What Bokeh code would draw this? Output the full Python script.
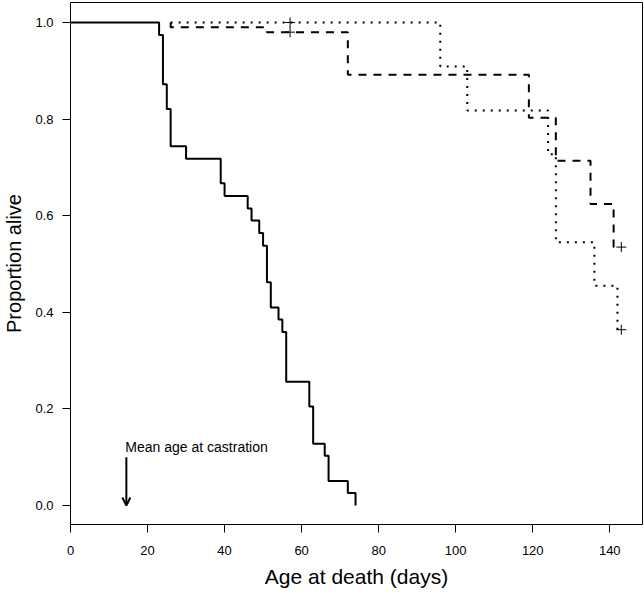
from bokeh.plotting import figure
from bokeh.models import Range1d, FixedTicker, Label, Arrow, OpenHead, PrintfTickFormatter
from bokeh.embed import file_html
from bokeh.resources import INLINE

# ---- data (Kaplan-Meier steps) ----
# solid curve
solid_days = [0, 23, 24, 25, 26, 30, 39, 40, 46, 47, 49, 50, 51, 52, 54, 55, 56, 62, 63, 66, 67, 72, 74]
solid_surv = [1.0, 0.974, 0.872, 0.821, 0.744, 0.718, 0.667, 0.641, 0.615, 0.590, 0.564, 0.538,
              0.462, 0.410, 0.385, 0.359, 0.256, 0.205, 0.128, 0.103, 0.051, 0.026, 0.0]
# dashed curve
dashed_days = [26, 26, 51, 72, 119, 126, 135, 141, 143]
dashed_surv = [1.0, 0.99, 0.98, 0.892, 0.803, 0.714, 0.624, 0.535, 0.535]
dashed_cens_days = [57, 143]
dashed_cens_surv = [0.98, 0.535]
# dotted curve
dotted_days = [26, 96, 103, 124, 126, 136, 142, 143]
dotted_surv = [1.0, 0.909, 0.818, 0.727, 0.545, 0.455, 0.364, 0.364]
dotted_cens_days = [57, 143]
dotted_cens_surv = [1.0, 0.364]

castration_age = 14.5
castration_note = "Mean age at castration"

x_ticks = [0, 20, 40, 60, 80, 100, 120, 140]
y_ticks = [0.0, 0.2, 0.4, 0.6, 0.8, 1.0]
x_title = "Age at death (days)"
y_title = "Proportion alive"

FONT = "Liberation Sans"

p = figure(width=644, height=594,
           x_range=Range1d(0, 148.5), y_range=Range1d(-0.0393, 1.0414),
           output_backend="svg", toolbar_location=None,
           min_border_left=70, min_border_right=2, min_border_top=2, min_border_bottom=70)
p.background_fill_color = "white"
p.border_fill_color = "white"
p.outline_line_color = "black"
p.outline_line_width = 1
p.xgrid.visible = False
p.ygrid.visible = False

for ax in (p.xaxis[0], p.yaxis[0]):
    ax.axis_line_color = None
    ax.major_tick_in = 0
    ax.major_tick_out = 8
    ax.minor_tick_in = 0
    ax.minor_tick_out = 0
    ax.major_tick_line_color = "black"
    ax.major_label_text_font = FONT
    ax.major_label_text_font_size = "13px"
    ax.major_label_text_color = "black"
    ax.axis_label_text_font = FONT
    ax.axis_label_text_font_style = "normal"
    ax.axis_label_text_color = "black"

p.xaxis.ticker = FixedTicker(ticks=x_ticks)
p.xaxis.major_label_standoff = 13
p.xaxis.axis_label = x_title
p.xaxis.axis_label_text_font_size = "21px"
p.xaxis.axis_label_standoff = 7

p.yaxis.ticker = FixedTicker(ticks=y_ticks)
p.yaxis.formatter = PrintfTickFormatter(format="%.1f")
p.yaxis.major_label_standoff = 9
p.yaxis.axis_label = y_title
p.yaxis.axis_label_text_font_size = "20px"
p.yaxis.axis_label_standoff = 7

p.step(x=solid_days, y=solid_surv, mode="after", line_color="black", line_width=2)
p.step(x=dashed_days, y=dashed_surv, mode="after", line_color="black", line_width=2, line_dash="8 7")
p.step(x=dotted_days, y=dotted_surv, mode="after", line_color="black", line_width=2, line_dash="2 6")

p.scatter(x=dashed_cens_days, y=dashed_cens_surv, marker="cross", size=10, line_color="black", line_width=1)
p.scatter(x=dotted_cens_days, y=dotted_cens_surv, marker="cross", size=10, line_color="black", line_width=1)

p.add_layout(Arrow(end=OpenHead(size=8, line_width=2, line_color="black"),
                   x_start=castration_age, y_start=0.1, x_end=castration_age, y_end=0.0,
                   line_width=2, line_color="black"))
p.add_layout(Label(x=castration_age, y=0.122, text=castration_note, x_offset=-1,
                   text_font=FONT, text_font_size="14px", text_align="left",
                   text_baseline="alphabetic", text_color="black"))

open("out.html", "w").write(file_html(p, INLINE))
